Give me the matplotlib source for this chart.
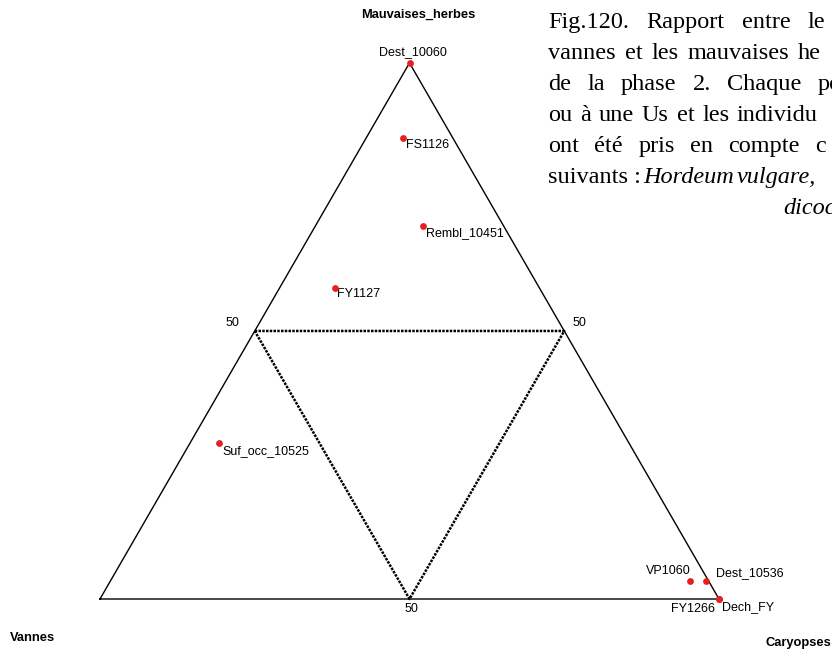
import matplotlib
matplotlib.use("Agg")
import matplotlib.pyplot as plt
import numpy as np

# composition ternaire (Vannes, Caryopses, Mauvaises_herbes) en %
samples = ["Dest_10060", "FS1126", "Rembl_10451", "FY1127", "Suf_occ_10525",
           "VP1060", "Dest_10536", "FY1266", "Dech_FY"]
vannes = [0.0, 8.0, 13.0, 33.0, 66.2, 3.0, 0.4, 0.0, 0.0]
caryopses = [0.0, 6.0, 17.5, 9.0, 4.7, 93.6, 96.3, 100.0, 100.0]
mauvaises = [100.0, 86.0, 69.5, 58.0, 29.1, 3.4, 3.3, 0.0, 0.0]

corner_labels = ["Vannes", "Caryopses", "Mauvaises_herbes"]
mid_labels = ["50", "50", "50"]

caption = [
    ["Fig.120.", "Rapport", "entre", "le"],
    ["vannes", "et", "les", "mauvaises", "he"],
    ["de", "la", "phase", "2.", "Chaque", "po"],
    ["ou", "à", "une", "Us", "et", "les", "individu"],
    ["ont", "été", "pris", "en", "compte", "c"],
    ["suivants :", "Hordeum", "vulgare,"],
    ["dicoc"],
]
italic_words = ["Hordeum", "vulgare,", "dicoc"]

# mise en page (pixels) : debut de ligne et debut du dernier mot visible
caption_left = 548
caption_last_x = [808, 798, 818, 737, 815, 737, 783]
caption_y = [28, 59, 90, 121, 152, 183, 214]

# decalage des etiquettes (pixels), alignement horizontal
label_off = [(3, 11, "center"), (3, -7, "left"), (3, -7, "left"), (2, -6, "left"),
             (3, -8, "left"), (1, 10, "right"), (10, 8, "left"), (-4, -10, "right"),
             (3, -8, "left")]

W, H = 832, 652
fig = plt.figure(figsize=(W / 100, H / 100), dpi=100)
ax = fig.add_axes([0, 0, 1, 1])
scale = 619.0
ax.set_xlim(-100 / scale, (W - 100) / scale)
ax.set_ylim(-(H - 599) / scale, 599 / scale)
ax.axis("off")

h = np.sqrt(3) / 2


def tern(v, c, m):
    t = v + c + m
    return c / t + m / t / 2, m / t * h


# triangle exterieur
tx = [0, 1, 0.5, 0]
ty = [0, 0, h, 0]
ax.plot(tx, ty, color="black", lw=1.0)

# triangle interieur (50 %)
mx = [0.25, 0.75, 0.5, 0.25]
my = [h / 2, h / 2, 0, h / 2]
ax.plot(mx, my, color="black", lw=1.8, linestyle=(0, (1, 0.5)))

fs_small = 9
ax.text(0.25 - 22 / scale, h / 2 + 8 / scale, mid_labels[0], ha="center", va="center",
        fontsize=fs_small, family="Liberation Sans")
ax.text(0.75 + 15 / scale, h / 2 + 8 / scale, mid_labels[1], ha="center", va="center",
        fontsize=fs_small, family="Liberation Sans")
ax.text(0.5 + 2 / scale, -10 / scale, mid_labels[2], ha="center", va="center",
        fontsize=fs_small, family="Liberation Sans")

# points
xs, ys = [], []
for v, c, m in zip(vannes, caryopses, mauvaises):
    x, y = tern(v, c, m)
    xs.append(x)
    ys.append(y)
ax.scatter(xs, ys, s=24, color="#E62020", zorder=5, linewidths=0)

for i, name in enumerate(samples):
    dx, dy, ha = label_off[i]
    ax.annotate(name, (xs[i], ys[i]), xytext=(dx, dy), textcoords="offset pixels",
                ha=ha, va="center", fontsize=fs_small, family="Liberation Sans")

# titres des sommets
fig.text(10 / W, 1 - 641 / H, corner_labels[0], ha="left", va="baseline",
         fontsize=9.3, fontweight="bold", family="Liberation Sans")
fig.text(831 / W, 1 - 646 / H, corner_labels[1], ha="right", va="baseline",
         fontsize=9.3, fontweight="bold", family="Liberation Sans")
fig.text(418 / W, 1 - 18 / H, corner_labels[2], ha="center", va="baseline",
         fontsize=9.3, fontweight="bold", family="Liberation Sans")

# legende de la figure (justifiee, coupee a droite)
renderer = fig.canvas.get_renderer()
for words, x_last, yb in zip(caption, caption_last_x, caption_y):
    texts = []
    for w in words:
        t = fig.text(0, 1 - yb / H, w, ha="left", va="baseline", fontsize=17.5,
                     family="Liberation Serif",
                     style="italic" if w in italic_words else "normal")
        texts.append(t)
    if len(texts) == 1:
        texts[0].set_x(x_last / W)
        continue
    widths = [t.get_window_extent(renderer).width for t in texts[:-1]]
    gap = (x_last - caption_left - sum(widths)) / (len(texts) - 1)
    xp = caption_left
    for t, wd in zip(texts[:-1], widths):
        t.set_x(xp / W)
        xp += wd + gap
    texts[-1].set_x(x_last / W)

fig.savefig("out.png", dpi=100)
